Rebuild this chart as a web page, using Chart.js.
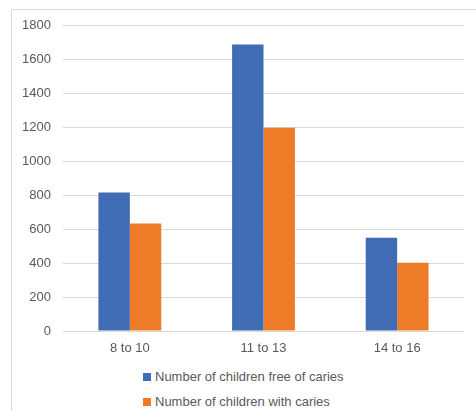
<!DOCTYPE html>
<html>
<head>
<meta charset="utf-8">
<script src="https://cdn.jsdelivr.net/npm/chart.js@4"></script>
<style>
  body { margin: 0; background: #fff; }
  .wrap { position: relative; width: 476px; height: 411px; overflow: hidden; font-family: "Liberation Sans", Arial, sans-serif; }
  .frame { position: absolute; left: 11px; top: 9px; width: 520px; height: 520px; border: 1px solid #d9d9d9; }
  .chartBox { position: absolute; left: 0; top: 0; width: 476px; height: 361px; }
  .legend { position: absolute; left: 143px; top: 364px; color: #595959; font-size: 13px; }
  .legend__item { display: flex; align-items: center; height: 25px; }
  .legend__box { width: 8px; height: 8px; margin-right: 4px; }
</style>
</head>
<body>
<div class="wrap">
  <div class="frame"></div>
  <div class="chartBox"><canvas id="barChart__chart"></canvas></div>
  <div class="legend" id="legend"></div>
</div>
<script>
const labels = ["8 to 10", "11 to 13", "14 to 16"];
const freeOfCaries = [815, 1685, 548];
const withCaries = [632, 1195, 402];
const seriesNames = ["Number of children free of caries", "Number of children with caries"];
const seriesColors = ["#3F6CB5", "#ED7B27"];

Chart.defaults.font.family = '"Liberation Sans", Arial, sans-serif';
Chart.defaults.font.size = 13;
Chart.defaults.color = "#595959";

const canvas = document.getElementById("barChart__chart");
const chart = new Chart(canvas, {
  type: "bar",
  data: {
    labels: labels,
    datasets: [
      {
        label: seriesNames[0],
        data: freeOfCaries,
        backgroundColor: seriesColors[0],
        barPercentage: 1,
        categoryPercentage: 0.47,
      },
      {
        label: seriesNames[1],
        data: withCaries,
        backgroundColor: seriesColors[1],
        barPercentage: 1,
        categoryPercentage: 0.47,
      },
    ],
  },
  options: {
    responsive: true,
    maintainAspectRatio: false,
    animation: false,
    layout: { padding: { top: 25, right: 12, bottom: 0, left: 0 } },
    plugins: {
      legend: false,
      tooltip: { enabled: false },
    },
    scales: {
      x: {
        grid: { display: false, drawTicks: false },
        border: { display: false },
        ticks: { padding: 10 },
        afterFit: (scale) => { scale.height = 30; },
      },
      y: {
        min: 0,
        max: 1800,
        ticks: { stepSize: 200, padding: 12, callback: (value) => String(value) },
        grid: { color: "#d9d9d9", lineWidth: 1, drawTicks: false },
        border: { display: false },
        afterFit: (scale) => { scale.width = 63; },
      },
    },
  },
});

const legend = document.getElementById("legend");
chart.data.datasets.forEach((ds) => {
  const item = document.createElement("div");
  item.className = "legend__item";
  const box = document.createElement("span");
  box.className = "legend__box";
  box.style.background = ds.backgroundColor;
  const text = document.createElement("span");
  text.textContent = ds.label;
  item.append(box, text);
  legend.append(item);
});
</script>
</body>
</html>
